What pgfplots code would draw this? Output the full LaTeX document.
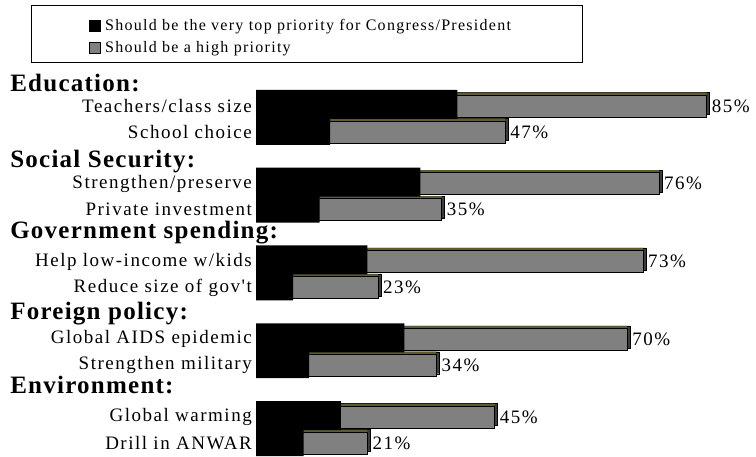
\documentclass[border=0pt]{standalone}
\usepackage{fontspec}
\setmainfont{Liberation Serif}
\newfontfamily\catff[LetterSpace=8]{Liberation Serif}
\newfontfamily\headff[LetterSpace=5]{Liberation Serif}
\newfontfamily\legff[LetterSpace=8]{Liberation Serif}
\usepackage{pgfplots}
\usepackage{pgfplotstable}
\pgfplotsset{compat=1.18}
\definecolor{bargray}{HTML}{808080}
\definecolor{olive3d}{HTML}{5C5A2E}
\definecolor{side3d}{HTML}{3C3C3C}
\pgfplotstableread{
y total top
0 85 38
1 47 14
3 76 31
4 35 12
6 73 21
7 23 7
9 70 28
10 34 10
12 45 16
13 21 9
}\data
\begin{document}
\begin{tikzpicture}[x=1bp,y=1bp]
\useasboundingbox (0,0) rectangle (756,457);
\begin{axis}[
  at={(256bp,1bp)}, anchor=south west,
  scale only axis, width=477bp, height=389bp,
  xmin=0, xmax=90, ymin=-1.5, ymax=13.5, y dir=reverse,
  clip=false,
  axis line style={draw=none},
  major tick length=0pt,
  xtick=\empty,
  ytick={0,1,3,4,6,7,9,10,12,13},
  yticklabels={Teachers/class size, School choice, Strengthen/preserve, Private investment, Help low-income w/kids, Reduce size of gov't, Global AIDS epidemic, Strengthen military, Global warming, Drill in ANWAR},
  yticklabel style={font=\catff\fontsize{19bp}{21bp}\selectfont, inner xsep=0pt, xshift=-4bp},
  /pgf/number format/assume math mode=true,
  legend image code/.code={\draw[#1, draw=black, line width=0.5bp] (0bp,-5.5bp) rectangle (11bp,5.5bp); \path (14bp,0bp);},
  legend cell align=left,
  legend style={at={(-0.3564,1.133)}, anchor=north west, draw=none, fill=none,
    font=\legff\fontsize{16bp}{18bp}\selectfont, row sep=7bp, nodes={inner sep=1.5bp}},
]
\addlegendimage{fill=black}
\addlegendentry{Should be the very top priority for Congress/President}
\addlegendimage{fill=bargray}
\addlegendentry{Should be a high priority}

\addplot[xbar, forget plot, bar width=22bp, bar shift=2.5bp, fill=side3d, draw=black, line width=0.4bp]
  table[x expr=\thisrow{total}+0.6, y=y]{\data};
\addplot[xbar, forget plot, bar width=22bp, bar shift=2.5bp, fill=olive3d, draw=none]
  table[x=total, y=y]{\data};
\addplot[xbar, forget plot, bar width=22bp, fill=bargray, draw=black, line width=0.6bp,
  point meta=x,
  nodes near coords={\pgfmathprintnumber{\pgfplotspointmeta}\%},
  nodes near coords style={anchor=west, xshift=4bp, inner sep=1bp, font=\catff\fontsize{19bp}{21bp}\selectfont}]
  table[x=total, y=y]{\data};
\addplot[xbar, forget plot, bar width=29bp, bar shift=1.5bp, fill=black, draw=none]
  table[x=top, y=y]{\data};

\draw[line width=1bp] (axis description cs:-0.4696,1.1568) rectangle (axis description cs:0.6855,1.0103);

\begin{scope}[every node/.style={anchor=base west, inner sep=0pt, font=\headff\bfseries\fontsize{25bp}{28bp}\selectfont}]
\node at (axis cs:-46.4,-0.54) {Education:};
\node at (axis cs:-46.4,2.36) {Social Security:};
\node at (axis cs:-46.4,5.13) {Government spending:};
\node at (axis cs:-46.4,8.22) {Foreign policy:};
\node at (axis cs:-46.4,11.1) {Environment:};
\end{scope}
\end{axis}
\end{tikzpicture}
\end{document}
